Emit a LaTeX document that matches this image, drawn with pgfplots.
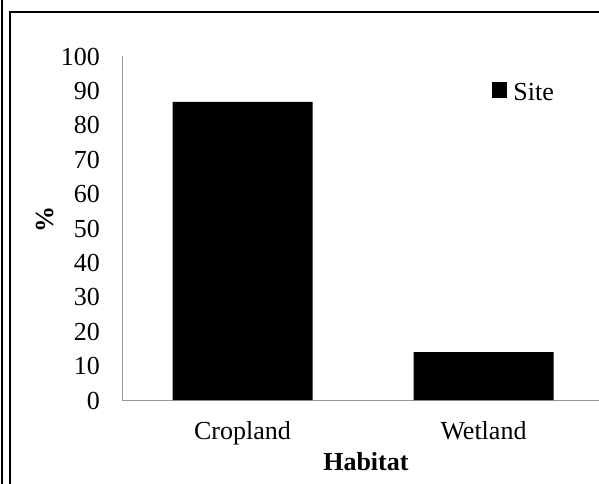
\documentclass[border=0pt]{standalone}
\usepackage{fontspec}
\setmainfont{Liberation Serif}
\usepackage{pgfplots}
\pgfplotsset{compat=1.18}
\definecolor{axisgray}{RGB}{150,150,150}
\begin{document}
\fontsize{26}{31}\selectfont%
\begin{tikzpicture}
\path[use as bounding box] (0,0) rectangle (599pt,-483pt);
\clip (0,0) rectangle (599pt,-483pt);
% outer frame of the chart area
\draw[line width=2pt] (2pt,1pt) -- (2pt,-484pt);
\draw[line width=1.5pt] (10pt,-490pt) -- (10pt,-12pt) -- (620pt,-12pt);
\begin{axis}[
  at={(122pt,-400pt)}, anchor=south west,
  scale only axis, width=482pt, height=344pt,
  xmin=-0.5, xmax=1.5, ymin=0, ymax=100,
  ybar, bar width=140pt,
  axis x line*=bottom, axis y line*=left,
  axis line style={draw=axisgray, line width=1pt, -},
  xtick={0,1}, xticklabels={Cropland,Wetland},
  ytick={0,10,...,100},
  major tick length=0pt,
  /pgf/number format/assume math mode=true,
  xticklabel style={anchor=base, yshift=-39pt},
  yticklabel style={anchor=base east, inner sep=0pt, xshift=-22pt, yshift=-9pt},
  xlabel={\textbf{Habitat}},
  xlabel style={at={(rel axis cs:0.506,0)}, anchor=base, yshift=-70pt},
  ylabel={\textbf{\%}},
  ylabel style={at={(rel axis cs:-0.16,0.526)}, anchor=center},
  legend style={draw=none, fill=none, inner sep=0pt,
    at={(rel axis cs:0.768,0.924)}, anchor=north west,
    nodes={inner sep=0pt}, column sep=6pt},
]
\addplot[fill=black, draw=none,
  legend image code/.code={\fill[black] (0pt,-5pt) rectangle (15pt,11pt);}]
  coordinates {(0,86.7) (1,13.9)};
\addlegendentry{Site}
\end{axis}
\end{tikzpicture}
\end{document}
